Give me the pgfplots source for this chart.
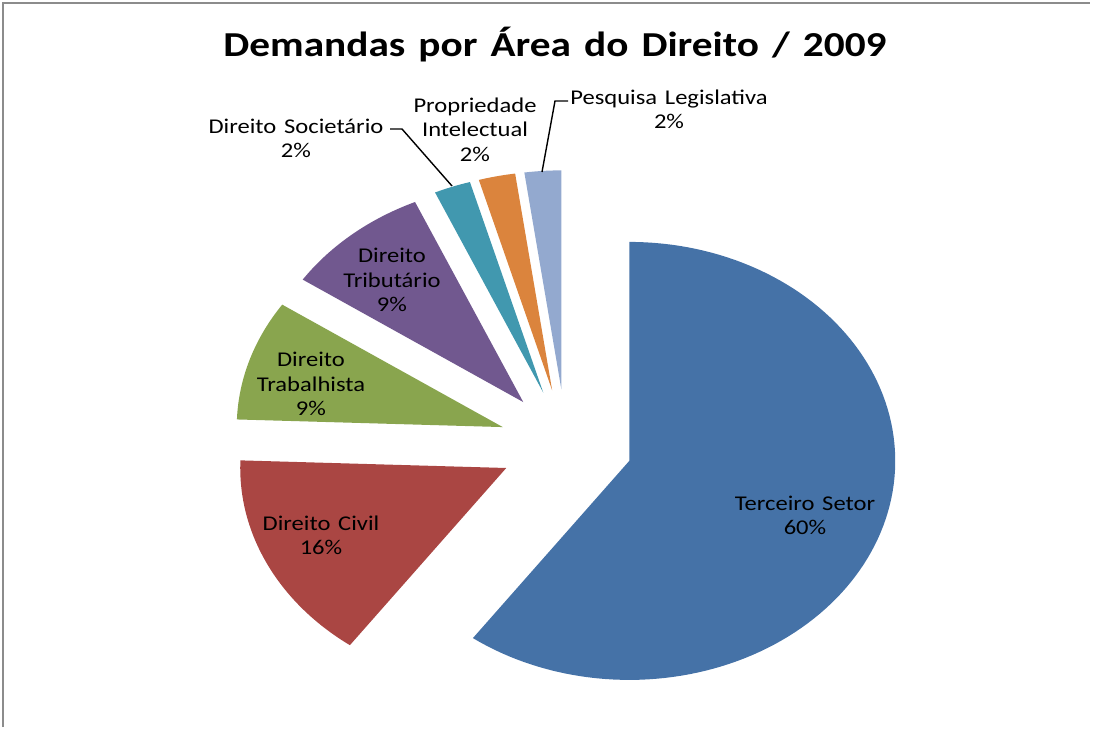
\documentclass[border=0pt]{standalone}
\usepackage{pgfplots}
\pgfplotsset{compat=1.18}
\usepackage{fontspec}
\setmainfont{Carlito}
\newfontfamily\titlefont[WordSpace=1.7]{Carlito}
\newfontfamily\labelfont[WordSpace=1.4]{Carlito}

\definecolor{cTer}{HTML}{4572A7}
\definecolor{cCiv}{HTML}{AA4643}
\definecolor{cTra}{HTML}{89A54E}
\definecolor{cTri}{HTML}{71588F}
\definecolor{cSoc}{HTML}{4198AF}
\definecolor{cPro}{HTML}{DB843D}
\definecolor{cPes}{HTML}{93A9CF}
\definecolor{frame}{HTML}{8C8C8C}

% pie geometry (axis units = pixels): centre, x radius, y radius, explosion
\def\cx{566}\def\cy{283}\def\rx{266}\def\ry{219}\def\ex{0.25}
\def\total{45}

% #1 = cumulative count before the slice, #2 = count, #3 = colour
\newcommand{\slice}[3]{%
  \addplot[draw=none, fill=#3, domain={90-360/\total*(#1+#2)}:{90-360/\total*(#1)}, samples=120]
    ({\cx+\ex*\rx*cos(90-360/\total*(#1+#2/2))+\rx*cos(x)},
     {\cy+\ex*\ry*sin(90-360/\total*(#1+#2/2))+\ry*sin(x)})
    -- ({\cx+\ex*\rx*cos(90-360/\total*(#1+#2/2))},{\cy+\ex*\ry*sin(90-360/\total*(#1+#2/2))}) -- cycle;
}

\begin{document}
\begin{tikzpicture}
\begin{axis}[
  width=1094pt, height=727pt, scale only axis,
  xmin=0, xmax=1094, ymin=0, ymax=727,
  hide axis, clip=false,
]
\addplot[draw=none, forget plot] coordinates {(0,0) (1094,727)};
\addplot[frame, line width=2pt, line cap=butt] coordinates {(3,0) (3,724) (1090,724)};

% data (counts, total 45): Terceiro Setor 27 (60%), Direito Civil 7 (16%),
% Direito Trabalhista 4 (9%), Direito Tributario 4 (9%),
% Direito Societario 1, Propriedade Intelectual 1, Pesquisa Legislativa 1 (2% each)
\slice{0}{27}{cTer}
\slice{27}{7}{cCiv}
\slice{34}{4}{cTra}
\slice{38}{4}{cTri}
\slice{42}{1}{cSoc}
\slice{43}{1}{cPro}
\slice{44}{1}{cPes}

% leader lines
\addplot[black, line width=1.4pt] coordinates {(390,598) (402,598) (452,541)};
\addplot[black, line width=1.4pt] coordinates {(568,626) (555,626) (542,555)};

\node[xscale=1.18, transform shape, font=\titlefont\bfseries\fontsize{35}{40}\selectfont] at (axis cs:555,682) {Demandas por Área do Direito / 2009};

\begin{scope}[every node/.style={align=center, xscale=1.17, transform shape, font=\labelfont\fontsize{21}{24.5}\selectfont}]
\node at (axis cs:805,211.5) {Terceiro Setor\\60\%};
\node at (axis cs:321,191.5) {Direito Civil\\16\%};
\node at (axis cs:311,343) {Direito\\Trabalhista\\9\%};
\node at (axis cs:392,447) {Direito\\Tributário\\9\%};
\node at (axis cs:296,588.5) {Direito Societário\\2\%};
\node at (axis cs:475,597.5) {Propriedade\\Intelectual\\2\%};
\node at (axis cs:669,617.5) {Pesquisa Legislativa\\2\%};
\end{scope}
\end{axis}
\end{tikzpicture}
\end{document}
